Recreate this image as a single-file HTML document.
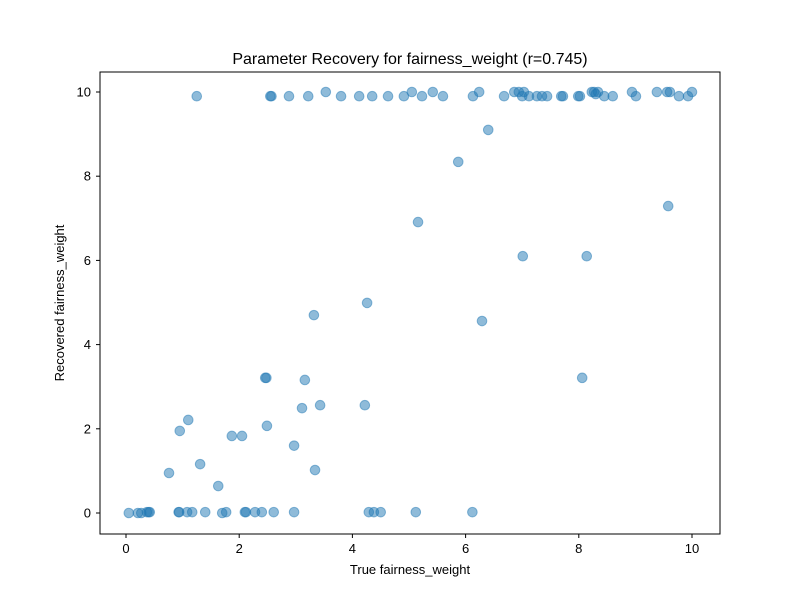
<!DOCTYPE html>
<html><head><meta charset="utf-8"><style>
body{margin:0;background:#fff}
text{font-family:"Liberation Sans","DejaVu Sans",sans-serif;fill:#000}
</style></head><body>
<svg id="chart" width="800" height="600" xmlns="http://www.w3.org/2000/svg">
<rect width="800" height="600" fill="#fff"/>
<text x="410" y="64" font-size="16" text-anchor="middle">Parameter Recovery for fairness_weight (r=0.745)</text>
<g id="marks"></g>
<g id="axes"></g>
<rect x="100" y="72" width="620" height="462" fill="none" stroke="#000" stroke-width="1"/>
<text x="410" y="574" font-size="13" text-anchor="middle">True fairness_weight</text>
<text transform="translate(64,303) rotate(-90)" font-size="13" text-anchor="middle">Recovered fairness_weight</text>
</svg>
<script>
const trueVals=[1.25,2.55,2.57,2.88,3.22,3.53,3.80,4.12,4.35,4.63,4.91,5.05,5.23,5.42,5.60,6.13,6.24,6.68,6.86,6.94,7.0,7.03,7.12,7.26,7.35,7.44,7.69,7.72,7.99,8.02,8.23,8.27,8.3,8.34,8.45,8.6,8.94,9.01,9.38,9.56,9.61,9.77,9.93,10.0,
5.87,6.4,5.16,7.01,8.14,9.58,4.26,3.32,6.29,2.46,2.48,8.06,3.16,3.11,3.43,4.22,1.10,0.95,2.49,1.87,2.05,2.97,1.31,0.76,3.34,1.63,
0.05,0.21,0.27,0.37,0.40,0.42,0.93,0.94,1.08,1.17,1.40,1.70,1.77,2.10,2.12,2.28,2.40,2.61,2.97,4.29,4.38,4.50,5.12,6.12];
const recVals=[9.9,9.9,9.9,9.9,9.9,10.0,9.9,9.9,9.9,9.9,9.9,10.0,9.9,10.0,9.9,9.9,10.0,9.9,10.0,10.0,9.9,10.0,9.9,9.9,9.9,9.9,9.9,9.9,9.9,9.9,10.0,10.0,9.95,10.0,9.9,9.9,10.0,9.9,10.0,10.0,10.0,9.9,9.9,10.0,
8.34,9.1,6.91,6.10,6.10,7.29,4.99,4.70,4.56,3.21,3.21,3.21,3.16,2.49,2.56,2.56,2.21,1.95,2.07,1.83,1.83,1.60,1.16,0.95,1.02,0.64,
0,0,0,0.02,0.02,0.02,0.02,0.02,0.02,0.02,0.02,0,0.02,0.02,0.02,0.02,0.02,0.02,0.02,0.02,0.02,0.02,0.02,0.02];
const xTicks=[0,2,4,6,8,10];
const yTicks=[0,2,4,6,8,10];
const NS="http://www.w3.org/2000/svg";
function xs(v){return 126+v*56.6;}
function ys(v){return 513-v*42.1;}
const marks=document.getElementById('marks');
for(let i=0;i<trueVals.length;i++){
 const c=document.createElementNS(NS,'circle');
 c.setAttribute('cx',xs(trueVals[i]));c.setAttribute('cy',ys(recVals[i]));c.setAttribute('r',4.8);
 c.setAttribute('fill','#1f77b4');c.setAttribute('fill-opacity','0.5');
 c.setAttribute('stroke','#1f77b4');c.setAttribute('stroke-opacity','0.5');
 
 
 marks.appendChild(c);
}
const axes=document.getElementById('axes');
xTicks.forEach(t=>{
 const l=document.createElementNS(NS,'line');
 l.setAttribute('x1',xs(t));l.setAttribute('x2',xs(t));l.setAttribute('y1',534);l.setAttribute('y2',538);l.setAttribute('stroke','#000');
 
 
 axes.appendChild(l);
 const tx=document.createElementNS(NS,'text');
 tx.setAttribute('x',xs(t));tx.setAttribute('y',553);tx.setAttribute('font-size','13');tx.setAttribute('text-anchor','middle');
 tx.textContent=t;
 
 
 axes.appendChild(tx);
});
yTicks.forEach(t=>{
 const l=document.createElementNS(NS,'line');
 l.setAttribute('x1',96);l.setAttribute('x2',100);l.setAttribute('y1',ys(t));l.setAttribute('y2',ys(t));l.setAttribute('stroke','#000');
 
 
 axes.appendChild(l);
 const tx=document.createElementNS(NS,'text');
 tx.setAttribute('x',91);tx.setAttribute('y',ys(t)+4.5);tx.setAttribute('font-size','13');tx.setAttribute('text-anchor','end');
 tx.textContent=t;
 
 
 axes.appendChild(tx);
});
</script>
</body></html>
